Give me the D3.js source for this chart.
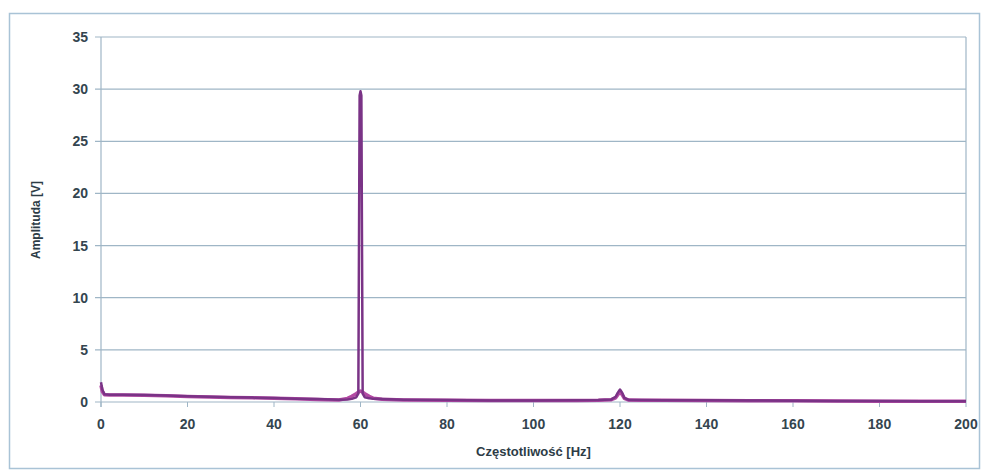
<!DOCTYPE html>
<html>
<head>
<meta charset="utf-8">
<script src="https://cdn.jsdelivr.net/npm/d3@7"></script>
<style>
  body { margin: 0; background: #fff; }
  text { font-family: "Liberation Sans", Arial, sans-serif; }
</style>
</head>
<body>
<script>
//chart values
var freq = [0, 0.3, 0.8, 2, 5, 10, 15, 20, 25, 30, 35, 40, 45, 50, 55, 57, 58, 59, 59.5, 59.8, 60, 60.2, 60.5, 61, 62, 63, 65, 70, 80, 90, 100, 110, 115, 118, 119, 119.5, 120, 120.5, 121, 122, 125, 130, 140, 150, 160, 170, 180, 190, 200];
//series 1: sharp spectrum (navy)
var ampSharp = [1.9, 1.2, 0.75, 0.7, 0.7, 0.68, 0.62, 0.55, 0.5, 0.45, 0.42, 0.38, 0.32, 0.28, 0.22, 0.25, 0.3, 0.45, 0.8, 29.4, 29.8, 29.4, 0.8, 0.45, 0.35, 0.3, 0.28, 0.22, 0.18, 0.15, 0.15, 0.16, 0.18, 0.25, 0.5, 0.9, 1.2, 0.9, 0.4, 0.2, 0.18, 0.17, 0.16, 0.14, 0.12, 0.1, 0.09, 0.08, 0.08];
//series 2: smoothed spectrum (magenta)
var ampWide = [1.6, 1.0, 0.7, 0.66, 0.66, 0.64, 0.6, 0.53, 0.48, 0.44, 0.4, 0.36, 0.3, 0.25, 0.2, 0.35, 0.55, 0.8, 0.95, 1.02, 1.05, 1.02, 0.95, 0.8, 0.55, 0.35, 0.26, 0.2, 0.17, 0.14, 0.14, 0.15, 0.17, 0.22, 0.4, 0.7, 0.95, 0.7, 0.35, 0.19, 0.17, 0.16, 0.15, 0.13, 0.11, 0.1, 0.08, 0.07, 0.07];
var xTicks = [0, 20, 40, 60, 80, 100, 120, 140, 160, 180, 200];
var yTicks = [0, 5, 10, 15, 20, 25, 30, 35];

var w = 982, h = 473;
var plot = {left: 101, right: 966, top: 37, bottom: 402};

var svg = d3.select("body").append("svg")
    .attr("width", w)
    .attr("height", h);

//outer chart frame
svg.append("rect")
    .attr("x", 9.5).attr("y", 13.5)
    .attr("width", 970).attr("height", 455)
    .style("fill", "#fff")
    .style("stroke", "#a9c3d6")
    .style("stroke-width", 1.5);

var x = d3.scaleLinear().domain([0, 200]).range([plot.left, plot.right]);
var y = d3.scaleLinear().domain([0, 35]).range([plot.bottom, plot.top]);

//horizontal gridlines
svg.append("g")
    .selectAll("line")
    .data(yTicks)
    .enter()
    .append("line")
    .attr("x1", plot.left - 6)
    .attr("x2", plot.right)
    .attr("y1", function(d){ return y(d); })
    .attr("y2", function(d){ return y(d); })
    .style("stroke", "#9fb6c6")
    .style("stroke-width", 1.2);

//plot frame left / right
svg.append("line")
    .attr("x1", plot.left).attr("x2", plot.left)
    .attr("y1", plot.top).attr("y2", plot.bottom + 5)
    .style("stroke", "#9fb6c6").style("stroke-width", 1.2);
svg.append("line")
    .attr("x1", plot.right).attr("x2", plot.right)
    .attr("y1", plot.top).attr("y2", plot.bottom)
    .style("stroke", "#9fb6c6").style("stroke-width", 1.2);

//y axis labels
svg.append("g")
    .selectAll("text")
    .data(yTicks)
    .enter()
    .append("text")
    .attr("x", 88)
    .attr("y", function(d){ return y(d) + 5; })
    .attr("text-anchor", "end")
    .style("font-size", "14px")
    .style("font-weight", "bold")
    .style("fill", "#34454f")
    .text(function(d){ return d; });

//x axis labels
svg.append("g")
    .selectAll("text")
    .data(xTicks)
    .enter()
    .append("text")
    .attr("x", function(d){ return x(d); })
    .attr("y", 429)
    .attr("text-anchor", "middle")
    .style("font-size", "14px")
    .style("font-weight", "bold")
    .style("fill", "#34454f")
    .text(function(d){ return d; });

//x tick marks
svg.append("g")
    .selectAll("line")
    .data(xTicks)
    .enter()
    .append("line")
    .attr("x1", function(d){ return x(d); })
    .attr("x2", function(d){ return x(d); })
    .attr("y1", plot.bottom)
    .attr("y2", plot.bottom + 5)
    .style("stroke", "#9fb6c6");

//series lines
var line = d3.line()
    .x(function(d){ return x(d[0]); })
    .y(function(d){ return y(d[1]); });

svg.append("path")
    .datum(d3.zip(freq, ampWide))
    .attr("d", line)
    .style("fill", "none")
    .style("stroke", "#b34aa3")
    .style("stroke-width", 3.5)
    .style("stroke-linejoin", "round");

svg.append("path")
    .datum(d3.zip(freq, ampSharp))
    .attr("d", line)
    .style("fill", "none")
    .style("stroke", "#7a3386")
    .style("stroke-width", 2.5)
    .style("stroke-linejoin", "round");

//axis titles
svg.append("text")
    .attr("x", (plot.left + plot.right) / 2)
    .attr("y", 456)
    .attr("text-anchor", "middle")
    .style("font-size", "13px")
    .style("font-weight", "bold")
    .style("fill", "#2d3c46")
    .text("Częstotliwość [Hz]");

svg.append("text")
    .attr("transform", "translate(40," + 220 + ") rotate(-90)")
    .attr("text-anchor", "middle")
    .style("font-size", "12px")
    .style("font-weight", "bold")
    .style("fill", "#2d3c46")
    .text("Amplituda [V]");
</script>
</body>
</html>
